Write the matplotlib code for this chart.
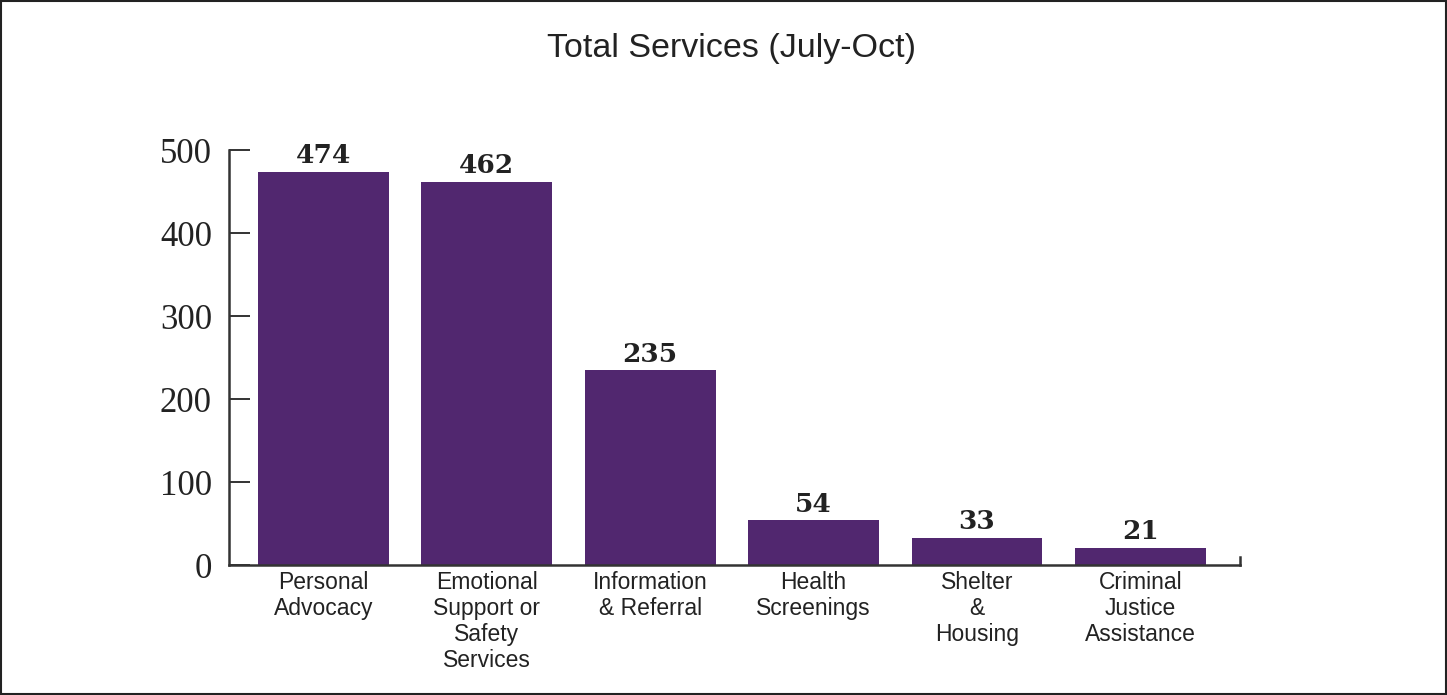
import matplotlib.pyplot as plt
from matplotlib.patches import Rectangle

# data
categories = ["Personal\nAdvocacy", "Emotional\nSupport or\nSafety\nServices",
              "Information\n& Referral", "Health\nScreenings",
              "Shelter\n&\nHousing", "Criminal\nJustice\nAssistance"]
services = [474, 462, 235, 54, 33, 21]
y_ticks = [0, 100, 200, 300, 400, 500]

bar_color = "#51276f"
text_color = "#222222"
sans = ["Liberation Sans", "DejaVu Sans"]
serif = ["Liberation Serif", "DejaVu Serif"]

fig = plt.figure(figsize=(14.47, 6.95), dpi=100)
ax = fig.add_axes([0.158, 0.187, 0.699, 0.597])

x = list(range(len(categories)))
bars = ax.bar(x, services, width=0.8, color=bar_color, zorder=2)

# valores em cima das barras
for b, v in zip(bars, services):
    ax.annotate(str(v), (b.get_x() + b.get_width() / 2, v), xytext=(0, 6),
                textcoords="offset points", ha="center", va="baseline",
                fontsize=19, fontweight="bold", family=["DejaVu Serif"],
                color=text_color, clip_on=False)

ax.set_xlim(-0.58, 5.61)
ax.set_ylim(0, 500)
ax.set_yticks(y_ticks)
ax.set_yticklabels([str(t) for t in y_ticks], family=serif, fontsize=25, color=text_color)
ax.set_xticks(x)
ax.set_xticklabels(categories, family=sans, fontsize=16.5, color=text_color,
                   linespacing=1.18, va="top")

ax.tick_params(axis="y", direction="in", length=15, width=1.4, pad=12, colors="#333333")
ax.tick_params(axis="y", labelcolor=text_color)
ax.tick_params(axis="x", length=0, pad=4)

ax.spines["top"].set_visible(False)
ax.spines["right"].set_bounds(0, 10)
for s in ["left", "bottom", "right"]:
    ax.spines[s].set_linewidth(1.8)
    ax.spines[s].set_color("#333333")

# titulo
fig.text(0.5055, 0.918, "Total Services (July-Oct)", ha="center", va="baseline",
         family=sans, fontsize=24.5, color=text_color)

# borda
fig.patches.append(Rectangle((0.001, 0.002), 0.998, 0.996, transform=fig.transFigure,
                             fill=False, edgecolor="#222222", linewidth=1.5))

fig.savefig("out.png", dpi=100, facecolor="white")
